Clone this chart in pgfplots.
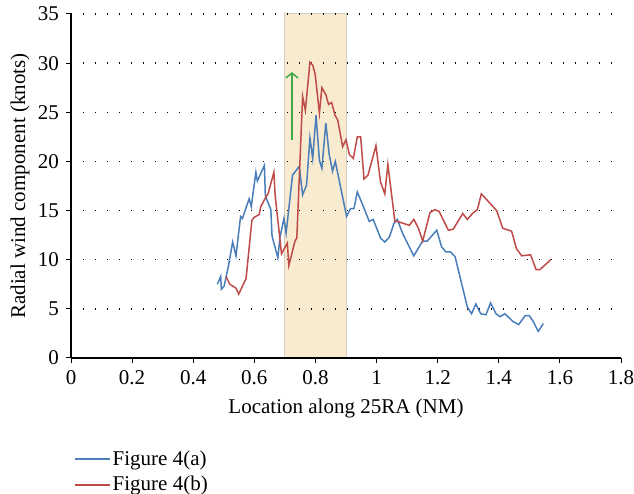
\documentclass[border=0pt]{standalone}
\usepackage{fontspec}
\setmainfont{Liberation Serif}
\usepackage{pgfplots}
\pgfplotsset{compat=1.18}
\usetikzlibrary{arrows.meta}
\definecolor{serA}{HTML}{4A7EBB}
\definecolor{serB}{HTML}{BE4B48}
\definecolor{band}{HTML}{F8EBCF}
\definecolor{bandedge}{HTML}{D6CEC0}
\definecolor{arrowgreen}{HTML}{3CAA48}
\begin{document}
\fontsize{21}{25}\selectfont
\begin{tikzpicture}
\begin{axis}[
  at={(0pt,0pt)}, anchor=south west,
  set layers,
  scale only axis, width=550pt, height=344pt,
  xmin=0, xmax=1.8, ymin=0, ymax=35,
  xtick={0,0.2,0.4,0.6,0.8,1,1.2,1.4,1.6,1.8},
  ytick={0,5,...,35},
  axis x line*=bottom, axis y line*=left,
  axis line style={line width=1.8pt, black},
  tick style={black, line width=1pt},
  major tick length=5pt, tick align=outside,
  ymajorgrids,
  grid style={black, line width=1.3pt, dash pattern=on 1.3pt off 10.7pt},
  /pgf/number format/assume math mode=true,
  /pgf/number format/fixed,
  tick label style={font=\fontsize{21}{25}\selectfont},
  label style={font=\fontsize{21}{25}\selectfont},
  xlabel={Location along 25RA (NM)},
  ylabel={Radial wind component (knots)},
  ylabel style={yshift=-6pt},
  legend style={draw=none, fill=none, at={(0,-0.257)}, anchor=north west,
    font=\fontsize{21}{25}\selectfont, row sep=4pt},
  legend cell align=left,
  legend image code/.code={\draw[#1] (0pt,0.3pt) -- (35pt,0.3pt);},
]
\addplot[fill=band, draw=bandedge, line width=1pt, on layer=axis background, forget plot]
  coordinates {(0.7,0) (0.7,35) (0.9,35) (0.9,0) (0.7,0)};
\addplot[serA, line width=1.5pt] coordinates {
(0.479,7.5)(0.490,8.3)(0.492,7.0)(0.501,7.3)(0.515,9.3)(0.529,11.8)(0.540,10.4)
(0.555,14.4)(0.561,14.2)(0.583,16.2)(0.590,15.4)(0.605,18.9)(0.610,18.0)(0.633,19.6)
(0.636,16.5)(0.654,15.1)(0.658,12.4)(0.677,10.2)(0.684,12.3)(0.697,14.2)(0.704,12.7)
(0.725,18.6)(0.747,19.5)(0.758,16.6)(0.771,17.6)(0.782,22.4)(0.791,20.3)(0.802,24.7)
(0.813,20.1)(0.821,19.3)(0.834,23.9)(0.845,20.7)(0.856,19.0)(0.865,20.0)(0.902,14.4)
(0.915,15.2)(0.926,15.2)(0.937,16.9)(0.957,15.4)(0.976,13.9)(0.989,14.1)(1.013,12.2)
(1.027,11.8)(1.042,12.3)(1.057,13.7)(1.068,14.1)(1.085,12.7)(1.104,11.5)(1.122,10.4)
(1.151,11.9)(1.166,11.9)(1.197,13.0)(1.213,11.3)(1.227,10.8)(1.242,10.8)(1.257,10.3)
(1.297,5.2)(1.311,4.5)(1.325,5.5)(1.341,4.5)(1.358,4.4)(1.373,5.6)(1.391,4.5)
(1.404,4.2)(1.420,4.5)(1.447,3.7)(1.465,3.4)(1.486,4.3)(1.500,4.3)(1.513,3.7)
(1.529,2.7)(1.546,3.5)
};
\addlegendentry{Figure 4(a)}
\addplot[serB, line width=1.5pt] coordinates {
(0.507,8.3)(0.520,7.5)(0.540,7.1)(0.549,6.5)(0.573,8.1)(0.592,14.0)(0.599,14.3)
(0.616,14.6)(0.621,15.4)(0.640,16.5)(0.645,16.7)(0.664,18.9)(0.668,16.6)(0.689,10.6)
(0.708,11.7)(0.713,9.4)(0.733,11.9)(0.739,12.2)(0.758,26.6)(0.767,25.2)(0.782,30.1)
(0.791,29.8)(0.799,28.9)(0.813,24.9)(0.821,27.5)(0.834,26.8)(0.843,25.8)(0.853,26.0)
(0.864,24.7)(0.873,24.2)(0.889,21.5)(0.900,22.2)(0.911,20.7)(0.924,20.3)(0.937,22.5)
(0.948,22.5)(0.959,18.2)(0.972,18.6)(0.998,21.6)(1.013,17.9)(1.027,16.7)(1.037,19.7)
(1.060,13.9)(1.068,13.9)(1.107,13.5)(1.122,14.1)(1.137,13.2)(1.151,11.9)(1.175,14.8)
(1.191,15.1)(1.205,14.9)(1.235,13.0)(1.251,13.1)(1.282,14.7)(1.297,14.1)(1.314,14.7)
(1.330,15.1)(1.343,16.7)(1.393,15.0)(1.413,13.2)(1.442,12.9)(1.458,11.1)(1.475,10.4)
(1.504,10.5)(1.522,9.0)(1.535,9.0)(1.570,10.0)
};
\addlegendentry{Figure 4(b)}
\addplot[draw=arrowgreen, color=arrowgreen, line width=1.5pt,
  -{Straight Barb[length=5pt,width=12pt]}, forget plot]
  coordinates {(0.723,22.2) (0.723,29.1)};
\end{axis}
\pgfresetboundingbox
\useasboundingbox (-71pt,-136pt) rectangle (563pt,358pt);
\end{tikzpicture}
\end{document}
